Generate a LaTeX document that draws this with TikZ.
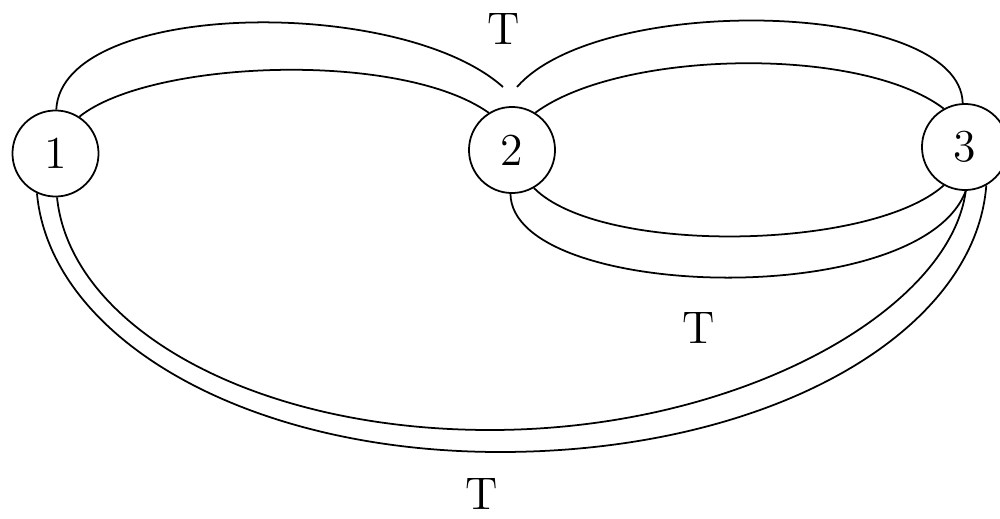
\documentclass[tikz,border=0pt]{standalone}
\begin{document}
\begin{tikzpicture}[x=0.01cm,y=-0.01cm,
	every node/.style={font=\fontsize{13}{15}\selectfont},
	vertex/.style={draw, circle, minimum size=0.86cm, inner sep=0pt, line width=0.5pt},
	tag/.style={inner sep=0pt},
	band/.style={line width=0.5pt}]
	\useasboundingbox (0,0) rectangle (1000,518);
	\node[vertex] (v1) at (55.5,153.5) {1};
	\node[vertex] (v2) at (512,150) {2};
	\node[vertex] (v3) at (965,147) {3};
	\coordinate (cuspL) at (503,87);
	\coordinate (cuspR) at (517,87);
	% band 1--2
	\draw[band] (v1.89) .. controls (62,0) and (400,-5) .. (cuspL);
	\draw[band] (v1.57) .. controls (150,60) and (400,50) .. (v2.122);
	% band 2--3, upper
	\draw[band] (cuspR) .. controls (600,-8) and (960,0) .. (v3.93);
	\draw[band] (v2.58) .. controls (620,50) and (860,45) .. (v3.119);
	% band 2--3, lower
	\draw[band] (v2.-60) .. controls (600,255) and (870,251) .. (v3.-119);
	\draw[band] (v2.-92) .. controls (512,300) and (920,312) .. (v3.-89);
	% band 1--3
	\draw[band] (v1.-115) .. controls (50,337) and (244,452) .. (500,452) .. controls (768,452) and (975,334) .. (v3.-61);
	\draw[band] (v1.-88) .. controls (70,325) and (250,430) .. (490,430) .. controls (740,430) and (950,310) .. (v3.-89);
	%\draw (500,470) node {$T$};
	\node[tag] (t12) at (504,29) {T};
	\node[tag] (t23) at (699,328) {T};
	\node[tag] (t13) at (482,494) {T};
\end{tikzpicture}
\end{document}
